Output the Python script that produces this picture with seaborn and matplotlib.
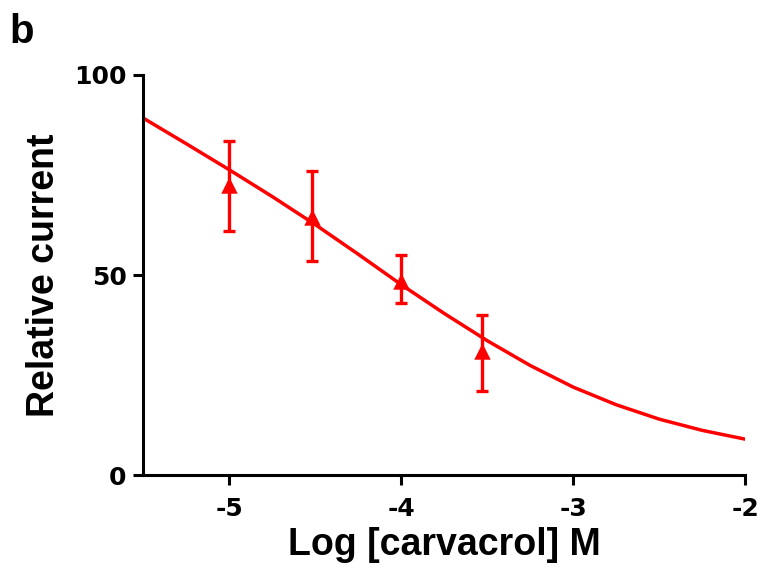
import matplotlib
matplotlib.use("Agg")
import matplotlib.pyplot as plt
import seaborn as sns
import pandas as pd
import numpy as np

# measured points (log concentration, relative current, error bar ends)
log_conc = [-5.0, -4.52, -4.0, -3.53]
rel_current = [72.5, 64.5, 48.5, 31.0]
err_low = [61.0, 53.5, 43.0, 21.0]
err_high = [83.5, 76.0, 55.0, 40.0]

# fitted curve
curve_x = [-5.5, -5.25, -5.0, -4.75, -4.5, -4.25, -4.0, -3.75, -3.5,
           -3.25, -3.0, -2.75, -2.5, -2.25, -2.0]
curve_y = [89.2, 82.8, 76.3, 69.6, 62.6, 55.2, 47.6, 40.4, 33.6,
           27.4, 22.0, 17.6, 14.0, 11.2, 9.0]

xticks = [-5, -4, -3, -2]
yticks = [0, 50, 100]

sns.set_style("ticks")
plt.rcParams['font.family'] = ['Liberation Sans', 'DejaVu Sans']
plt.rcParams['font.weight'] = 'bold'
plt.rcParams['text.color'] = 'black'
plt.rcParams['axes.labelcolor'] = 'black'
plt.rcParams['xtick.color'] = 'black'
plt.rcParams['ytick.color'] = 'black'

fig = plt.figure(figsize=(7.62, 5.76), dpi=100)
ax = fig.add_axes([0.188, 0.175, 0.79, 0.695])

curve = pd.DataFrame({'x': curve_x, 'y': curve_y})
sns.lineplot(data=curve, x='x', y='y', color='red', linewidth=2.5, ax=ax)

pts = pd.DataFrame({'x': log_conc, 'y': rel_current})
yerr = [np.array(rel_current) - np.array(err_low), np.array(err_high) - np.array(rel_current)]
ax.errorbar(log_conc, rel_current, yerr=yerr, fmt='none', ecolor='red',
            elinewidth=2.4, capsize=4, capthick=2.4, zorder=3)
sns.scatterplot(data=pts, x='x', y='y', marker='^', color='red', s=140,
                edgecolor='red', linewidth=0, ax=ax, zorder=4)

ax.set_xlim(-5.5, -2)
ax.set_ylim(0, 100)
ax.set_xticks(xticks)
ax.set_yticks(yticks)
ax.set_xticklabels([str(t) for t in xticks])
ax.set_yticklabels([str(t) for t in yticks])
for s in ['left', 'bottom']:
    ax.spines[s].set_linewidth(2.2)
    ax.spines[s].set_color('black')
sns.despine(ax=ax)
ax.tick_params(axis='both', direction='out', length=7, width=2.2, color='black')
ax.tick_params(axis='x', pad=9)
ax.tick_params(axis='y', pad=5)
for lab in ax.get_xticklabels() + ax.get_yticklabels():
    lab.set_fontfamily('DejaVu Sans')
    lab.set_fontweight('bold')
    lab.set_fontsize(18)

ax.set_xlabel('Log [carvacrol] M', fontsize=27, fontweight='bold', labelpad=4)
ax.set_ylabel('Relative current', fontsize=27, fontweight='bold', labelpad=9)

fig.text(0.012, 0.925, 'b', fontsize=29, fontweight='bold')

fig.savefig('out.png', dpi=100)
